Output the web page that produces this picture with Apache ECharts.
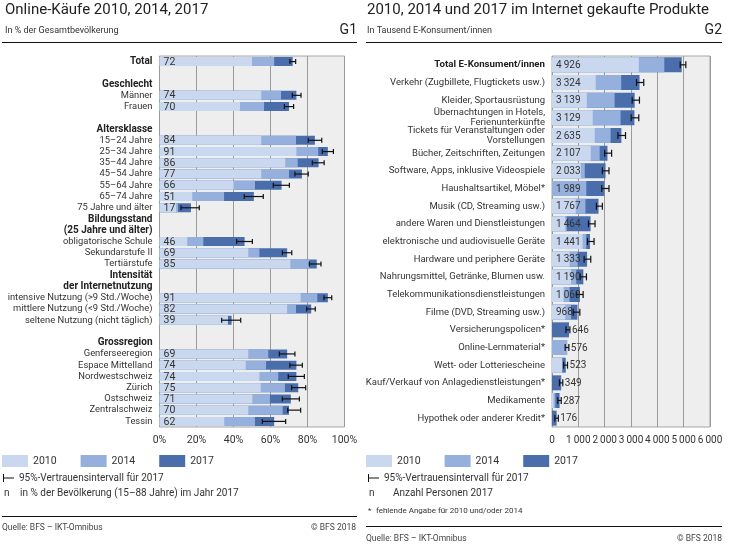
<!DOCTYPE html>
<html><head><meta charset="utf-8">
<script src="https://cdn.jsdelivr.net/npm/echarts@6/dist/echarts.min.js"></script>
<style>html,body{margin:0;padding:0;background:#fff}#c{width:735px;height:546px}</style>
</head><body><div id="c"></div>
<script>
// ---------- G1 data ----------
var leftCats = ['Total',' ','Geschlecht','Männer','Frauen','  ','Altersklasse','15–24 Jahre','25–34 Jahre','35–44 Jahre','45–54 Jahre','55–64 Jahre','65–74 Jahre','75 Jahre und älter','Bildungsstand','(25 Jahre und älter)','obligatorische Schule','Sekundarstufe II','Tertiärstufe','Intensität','der Internetnutzung','intensive Nutzung (>9 Std./Woche)','mittlere Nutzung (<9 Std./Woche)','seltene Nutzung (nicht täglich)','   ','Grossregion','Genferseeregion','Espace Mittelland','Nordwestschweiz','Zürich','Ostschweiz','Zentralschweiz','Tessin'];
var leftBold = ['Total','Geschlecht','Altersklasse','Bildungsstand','(25 Jahre und älter)','Intensität','der Internetnutzung','Grossregion'];
var left2010 = [50,null,null,55,43.5,null,null,55,74,68,55,40,17.7,9,null,null,15,48,70.7,null,null,76.3,69,37,null,null,48,46.6,54,54.7,50.2,48,35];
var left2014 = [62,null,null,65.7,56.5,null,null,73.8,85.8,74.7,70,51.6,34.9,10,null,null,23.7,54,81,null,null,85.3,73.8,36,null,null,58.8,57.6,64.2,67.8,59.7,66.6,51.6];
var left2017 = [72,null,null,74,70,null,null,84,91,86,77,66,51,17,null,null,46,69,85,null,null,91,82,39,null,null,69,74,74,75,71,70,62];
var leftLow  = [70.5,null,null,71.8,67.5,null,null,80.4,88,82.6,73.2,61.5,45.8,11.6,null,null,41.7,66.4,81,null,null,88.9,79.6,33.6,null,null,64.8,70.5,69.6,71.4,66.4,69.3,55.6];
var leftHigh = [73.6,null,null,76.5,72.5,null,null,87.7,94,89,80.4,70.2,56.1,21.5,null,null,50.2,71.5,87.3,null,null,93.1,84.2,43.9,null,null,73.2,77.2,78.3,79,75.6,76.3,68.2];
var leftTicks = [0,20,40,60,80,100];

// ---------- G2 data ----------
var rightCats = ['Total E-Konsument/innen','Verkehr (Zugbillete, Flugtickets usw.)','Kleider, Sportausrüstung','Übernachtungen in Hotels,\nFerienunterkünfte','Tickets für Veranstaltungen oder\nVorstellungen','Bücher, Zeitschriften, Zeitungen','Software, Apps, inklusive Videospiele','Haushaltsartikel, Möbel*','Musik (CD, Streaming usw.)','andere Waren und Dienstleistungen','elektronische und audiovisuelle Geräte','Hardware und periphere Geräte','Nahrungsmittel, Getränke, Blumen usw.','Telekommunikationsdienstleistungen','Filme (DVD, Streaming usw.)','Versicherungspolicen*','Online-Lernmaterial*','Wett- oder Lotteriescheine','Kauf/Verkauf von Anlagedienstleistungen*','Medikamente','Hypothek oder anderer Kredit*'];
var rightBold = ['Total E-Konsument/innen'];
var right2010 = [3296,1660,1321,1547,1623,1472,1094,null,900,505,1163,668,721,440,505,null,null,390,null,60,null];
var right2014 = [4264,2629,2377,2604,2226,1811,1245,1302,1270,560,1302,972,922,668,721,null,570,380,null,130,null];
var right2017 = [4926,3324,3139,3129,2635,2107,2033,1989,1767,1464,1441,1333,1190,1060,968,646,576,523,349,287,176];
var rightLow  = [4868,3208,3044,3006,2503,2000,1912,1887,1686,1384,1346,1220,1069,931,805,530,500,440,280,220,110];
var rightHigh = [5082,3484,3321,3296,2792,2264,2164,2164,1912,1635,1597,1472,1308,1182,1057,680,640,590,410,350,240];
var rightTicks = [0,1000,2000,3000,4000,5000,6000];

var seriesNames = ['2010','2014','2017'];
var colors = {'2010':'#c9d8ee','2014':'#95b0dc','2017':'#4a6eac'};
var FONT = 'Roboto, "Noto Sans", sans-serif';
var TXT = '#333';

function fmtThousands(v){
  var s = String(Math.round(v));
  return s.replace(/\B(?=(\d{3})+(?!\d))/g, '\u2009');
}

function barSeries(name, data, gi, bw){
  return {
    name: name, type: 'bar', xAxisIndex: gi, yAxisIndex: gi,
    data: data, barWidth: bw, barGap: '-100%',
    itemStyle: {color: colors[name]}, z: 2, silent: true
  };
}
function errSeries(low, high, gi, cap){
  var d = [];
  for (var i=0;i<low.length;i++) if (low[i]!=null) d.push([low[i], high[i], i]);
  return {
    type: 'custom', xAxisIndex: gi, yAxisIndex: gi, z: 5, silent: true,
    encode: {x:[0,1], y:2},
    data: d,
    renderItem: function(params, api){
      var a = api.coord([api.value(0), api.value(2)]);
      var b = api.coord([api.value(1), api.value(2)]);
      var st = {stroke:'#111', lineWidth:1.2};
      return {type:'group', children:[
        {type:'line', shape:{x1:a[0],y1:a[1],x2:b[0],y2:b[1]}, style:st},
        {type:'line', shape:{x1:a[0],y1:a[1]-cap,x2:a[0],y2:a[1]+cap}, style:st},
        {type:'line', shape:{x1:b[0],y1:b[1]-cap,x2:b[0],y2:b[1]+cap}, style:st}
      ]};
    }
  };
}
function labelSeries(vals, high, gi, fmt, outsideBelow, fs){
  var d = [], texts = [];
  for (var i=0;i<vals.length;i++) if (vals[i]!=null) {
    var outside = outsideBelow != null && vals[i] < outsideBelow;
    d.push([outside ? high[i] : 0, i, outside ? 1 : 0]);
    texts.push(fmt(vals[i]));
  }
  return {
    type: 'custom', xAxisIndex: gi, yAxisIndex: gi, z: 6, silent: true,
    encode: {x:0, y:1},
    data: d,
    renderItem: function(params, api){
      var p = api.coord([api.value(0), api.value(1)]);
      return {type:'text', x: p[0] + (api.value(2) ? 2 : 4), y: p[1]+0.5,
        style:{text: texts[params.dataIndex], fill:'#333', font: fs + 'px ' + FONT, textVerticalAlign:'middle', textAlign:'left'}};
    }
  };
}

var chart = echarts.init(document.getElementById('c'), null, {renderer:'canvas'});

var option = {
  animation: false,
  backgroundColor: '#fff',
  textStyle: {fontFamily: FONT},
  grid: [
    {left: 159.5, top: 56, width: 185, height: 371, containLabel:false, outerBoundsMode:'none', show: true, backgroundColor: '#eeeeee', borderColor: '#a6a6a6', borderWidth: 1},
    {left: 552, top: 56, width: 158, height: 371, containLabel:false, outerBoundsMode:'none', show: true, backgroundColor: '#eeeeee', borderColor: '#a6a6a6', borderWidth: 1}
  ],
  xAxis: [
    {gridIndex:0, type:'value', min: leftTicks[0], max: leftTicks[leftTicks.length-1], interval: 20,
     axisLine:{show:false}, axisTick:{show:false},
     splitLine:{show:true, lineStyle:{color:'#9a9a9a', width:1}},
     axisLabel:{color:TXT, fontSize:10.5, fontFamily:FONT, margin:8, formatter: function(v){return v+'%';}}},
    {gridIndex:1, type:'value', min: rightTicks[0], max: rightTicks[rightTicks.length-1], interval: 1000,
     axisLine:{show:false}, axisTick:{show:false},
     splitLine:{show:true, lineStyle:{color:'#9a9a9a', width:1}},
     axisLabel:{color:TXT, fontSize:10, fontFamily:FONT, margin:8, formatter: function(v){return fmtThousands(v);}}}
  ],
  yAxis: [
    {gridIndex:0, type:'category', data:leftCats, inverse:true,
     axisLine:{show:false}, axisTick:{show:false}, splitLine:{show:false},
     axisLabel:{interval:0, margin:7, color:TXT, fontSize:9.4, fontFamily:FONT,
       formatter:function(v){ return leftBold.indexOf(v)>=0 ? '{b|'+v+'}' : v; },
       rich:{b:{fontWeight:'bold', color:'#222', fontSize:10, fontFamily:FONT}}}},
    {gridIndex:1, type:'category', data:rightCats, inverse:true,
     axisLine:{show:false}, axisTick:{show:false}, splitLine:{show:false},
     axisLabel:{interval:0, margin:7, color:TXT, fontSize:9.5, lineHeight:10, fontFamily:FONT,
       formatter:function(v){ return rightBold.indexOf(v)>=0 ? '{b|'+v+'}' : v; },
       rich:{b:{fontWeight:'bold', color:'#222', fontSize:9.7, fontFamily:FONT}}}}
  ],
  legend: [
    {left: 2, top: 455, padding: 0, itemWidth: 26, itemHeight: 12, itemGap: 24, icon: 'rect', data: seriesNames,
     textStyle:{color:TXT, fontSize:10.5, fontFamily:FONT}, selectedMode:false},
    {left: 366, top: 455, padding: 0, itemWidth: 26, itemHeight: 12, itemGap: 24, icon: 'rect', data: seriesNames,
     textStyle:{color:TXT, fontSize:10.5, fontFamily:FONT}, selectedMode:false}
  ],
  series: [
    barSeries('2017', left2017, 0, 9),
    barSeries('2014', left2014, 0, 9),
    barSeries('2010', left2010, 0, 9),
    errSeries(leftLow, leftHigh, 0, 2.5),
    labelSeries(left2017, leftHigh, 0, function(v){return String(v);}, null, 10.5),
    barSeries('2017', right2017, 1, 15),
    barSeries('2014', right2014, 1, 15),
    barSeries('2010', right2010, 1, 15),
    errSeries(rightLow, rightHigh, 1, 3.5),
    labelSeries(right2017, rightHigh, 1, fmtThousands, 700, 10)
  ],
  graphic: [
    {type:'text', left:5, top:3, style:{text:'Online-Käufe 2010, 2014, 2017', font:'15px '+FONT, fill:'#222'}},
    {type:'text', left:5, top:26, style:{text:'In % der Gesamtbevölkerung', font:'9px '+FONT, fill:'#333'}},
    {type:'text', right:735-357, top:23, style:{text:'G1', font:'14px '+FONT, fill:'#222'}},
    {type:'line', shape:{x1:2,y1:42.5,x2:357,y2:42.5}, style:{stroke:'#111', lineWidth:1}},

    {type:'text', left:367, top:3, style:{text:'2010, 2014 und 2017 im Internet gekaufte Produkte', font:'15px '+FONT, fill:'#222'}},
    {type:'text', left:367, top:26, style:{text:'In Tausend E-Konsument/innen', font:'9px '+FONT, fill:'#333'}},
    {type:'text', right:735-722, top:23, style:{text:'G2', font:'14px '+FONT, fill:'#222'}},
    {type:'line', shape:{x1:366,y1:42.5,x2:722,y2:42.5}, style:{stroke:'#111', lineWidth:1}},

    // left footer
    {type:'line', shape:{x1:3.5,y1:474,x2:3.5,y2:482}, style:{stroke:'#111', lineWidth:1}},
    {type:'line', shape:{x1:3.5,y1:478,x2:14,y2:478}, style:{stroke:'#111', lineWidth:1}},
    {type:'text', x:19, y:478, style:{text:'95%-Vertrauensintervall für 2017', font:'10px '+FONT, fill:'#333', textVerticalAlign:'middle'}},
    {type:'text', x:4, y:493, style:{text:'n', font:'10px '+FONT, fill:'#333', textVerticalAlign:'middle'}},
    {type:'text', x:20, y:493, style:{text:'in % der Bevölkerung (15–88 Jahre) im Jahr 2017', font:'10px '+FONT, fill:'#333', textVerticalAlign:'middle'}},
    {type:'line', shape:{x1:2,y1:516.5,x2:357,y2:516.5}, style:{stroke:'#111', lineWidth:1}},
    {type:'text', x:2, y:528, style:{text:'Quelle: BFS – IKT-Omnibus', font:'8.5px '+FONT, fill:'#444', textVerticalAlign:'middle'}},
    {type:'text', x:356, y:528, style:{text:'© BFS 2018', font:'8.5px '+FONT, fill:'#444', textVerticalAlign:'middle', textAlign:'right'}},

    // right footer
    {type:'line', shape:{x1:368.5,y1:474,x2:368.5,y2:482}, style:{stroke:'#111', lineWidth:1}},
    {type:'line', shape:{x1:368.5,y1:478,x2:379,y2:478}, style:{stroke:'#111', lineWidth:1}},
    {type:'text', x:384, y:478, style:{text:'95%-Vertrauensintervall für 2017', font:'10px '+FONT, fill:'#333', textVerticalAlign:'middle'}},
    {type:'text', x:369, y:493, style:{text:'n', font:'10px '+FONT, fill:'#333', textVerticalAlign:'middle'}},
    {type:'text', x:393, y:493, style:{text:'Anzahl Personen 2017', font:'10px '+FONT, fill:'#333', textVerticalAlign:'middle'}},
    {type:'text', x:368, y:511, style:{text:'*', font:'8px '+FONT, fill:'#333', textVerticalAlign:'middle'}},
    {type:'text', x:376, y:511, style:{text:'fehlende Angabe für 2010 und/oder 2014', font:'8px '+FONT, fill:'#333', textVerticalAlign:'middle'}},
    {type:'line', shape:{x1:366,y1:526.5,x2:722,y2:526.5}, style:{stroke:'#111', lineWidth:1}},
    {type:'text', x:366, y:539, style:{text:'Quelle: BFS – IKT-Omnibus', font:'8.5px '+FONT, fill:'#444', textVerticalAlign:'middle'}},
    {type:'text', x:722, y:539, style:{text:'© BFS 2018', font:'8.5px '+FONT, fill:'#444', textVerticalAlign:'middle', textAlign:'right'}}
  ]
};
chart.setOption(option);
</script>
</body></html>
